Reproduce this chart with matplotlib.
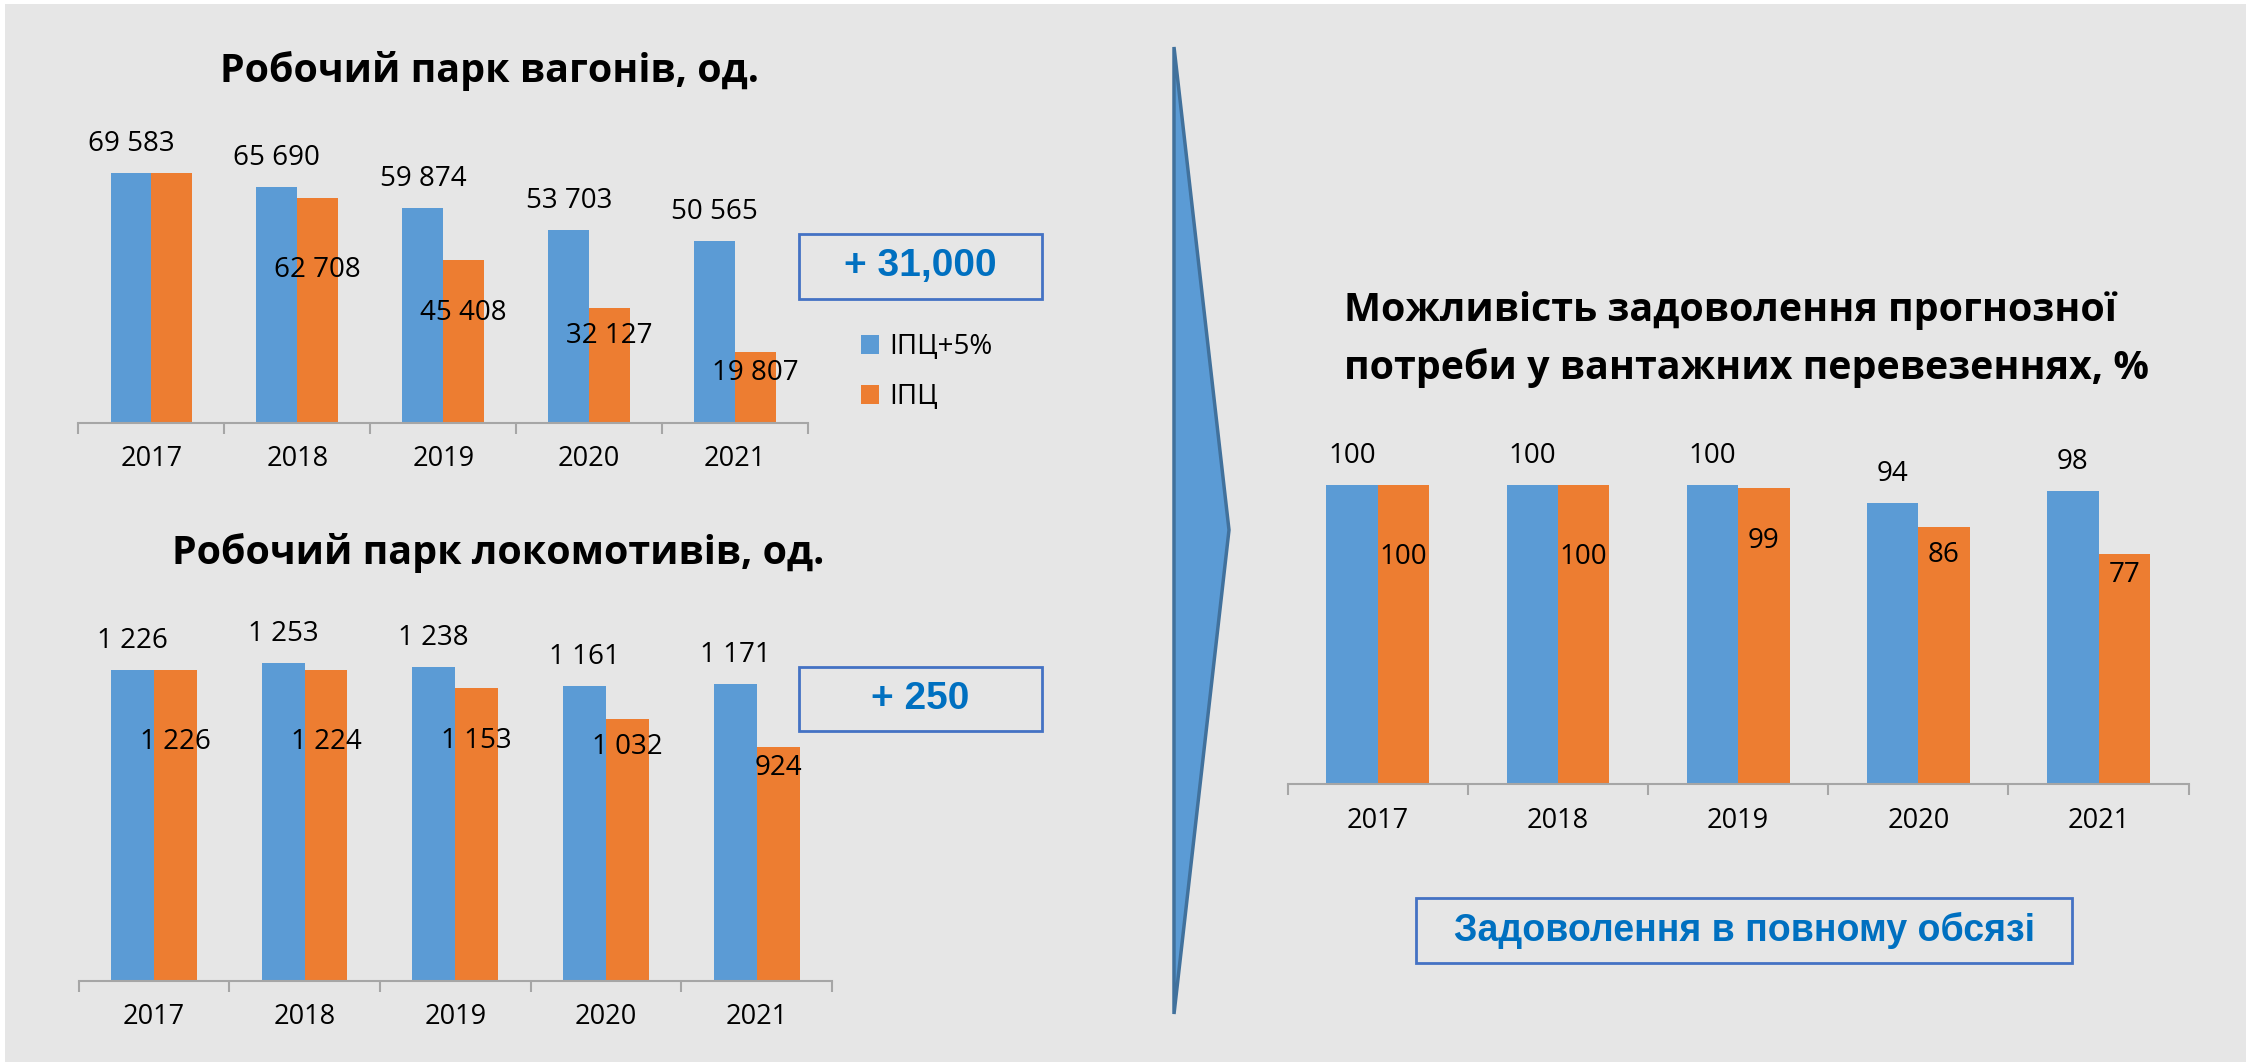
import matplotlib
matplotlib.use("Agg")
import matplotlib.pyplot as plt
from matplotlib.patches import Rectangle, Polygon

# ---------------- data ----------------
years = ["2017", "2018", "2019", "2020", "2021"]
series_names = ["ІПЦ+5%", "ІПЦ"]

wagons_cpi5 = [69583, 65690, 59874, 53703, 50565]
wagons_cpi = [69583, 62708, 45408, 32127, 19807]
wagons_show_cpi_label = [False, True, True, True, True]

locos_cpi5 = [1226, 1253, 1238, 1161, 1171]
locos_cpi = [1226, 1224, 1153, 1032, 924]

demand_cpi5 = [100, 100, 100, 94, 98]
demand_cpi = [100, 100, 99, 86, 77]

title_wagons = "Робочий парк вагонів, од."
title_locos = "Робочий парк локомотивів, од."
title_demand_1 = "Можливість задоволення прогнозної"
title_demand_2 = "потреби у вантажних перевезеннях, %"
box_wagons = "+ 31,000"
box_locos = "+ 250"
box_demand = "Задоволення в повному обсязі"

# ---------------- style ----------------
W, H = 2246, 1062
DPI = 100
BG = "#E6E6E6"
BLUE = "#5B9BD5"
ORANGE = "#ED7D31"
AXIS = "#A6A6A6"
BOXBLUE = "#4472C4"
TXTBLUE = "#0070C0"
FONT = ["Open Sans", "DejaVu Sans"]
BOXFONT = ["Liberation Sans", "DejaVu Sans"]
TITLE_FS = 28.4
# pixel drop of orange labels below bar top
ORANGE_LABEL_DROP = [72, 72, 53, 28, 21]

plt.rcParams["font.family"] = FONT

fig = plt.figure(figsize=(W / DPI, H / DPI), dpi=DPI, facecolor="white")

ov = fig.add_axes([0, 0, 1, 1], zorder=0)
ov.set_xlim(0, W)
ov.set_ylim(H, 0)
ov.axis("off")
ov.add_patch(Rectangle((5, 4), W, H, facecolor=BG, edgecolor="none"))


def px_ax(left, right, base, top):
    return fig.add_axes([left / W, 1 - base / H, (right - left) / W, (base - top) / H], zorder=2)


def bar_chart(left, right, base, top, ymax, s1, s2, barw, show2=None):
    ax = px_ax(left, right, base, top)
    ax.set_facecolor("none")
    x = list(range(len(years)))
    b1 = ax.bar([i - barw / 2 for i in x], s1, width=barw, color=BLUE, label=series_names[0])
    b2 = ax.bar([i + barw / 2 for i in x], s2, width=barw, color=ORANGE, label=series_names[1])
    ax.set_xlim(-0.5, len(years) - 0.5)
    ax.set_ylim(0, ymax)
    for s in ["top", "right", "left"]:
        ax.spines[s].set_visible(False)
    ax.spines["bottom"].set_color(AXIS)
    ax.spines["bottom"].set_linewidth(1.5)
    ax.set_yticks([])
    ax.set_xticks([i - 0.5 for i in range(len(years) + 1)])
    ax.set_xticklabels([])
    ax.tick_params(axis="x", which="major", length=8, width=1.5, color=AXIS)
    ax.set_xticks(x, minor=True)
    ax.set_xticklabels(years, minor=True, fontsize=19.5)
    ax.tick_params(axis="x", which="minor", length=0, pad=16)
    fmt = lambda v: f"{v:,}".replace(",", " ")
    for i, (r, v) in enumerate(zip(b1, s1)):
        ax.annotate(fmt(v), (r.get_x() + r.get_width() / 2, v), xytext=(0, 29 * 72 / DPI),
                    textcoords="offset points", ha="center", va="center", fontsize=20, annotation_clip=False)
    for i, (r, v) in enumerate(zip(b2, s2)):
        if show2 is not None and not show2[i]:
            continue
        ax.annotate(fmt(v), (r.get_x() + r.get_width() / 2, v),
                    xytext=(0, -ORANGE_LABEL_DROP[i] * 72 / DPI),
                    textcoords="offset points", ha="center", va="center", fontsize=20, annotation_clip=False)
    return ax, b1, b2


# top-left: wagons
ax1, b1, b2 = bar_chart(78.5, 808, 423, 423 - 80000 * 250 / 69583, 80000,
                        wagons_cpi5, wagons_cpi, 0.28, wagons_show_cpi_label)
ax1.legend(handles=[b1, b2], loc="upper left", bbox_to_anchor=(861 / W, 1 - 333 / H),
           bbox_transform=fig.transFigure, frameon=False, fontsize=20, handlelength=0.65,
           handleheight=0.65, handletextpad=0.35, labelspacing=0.8, borderpad=0, borderaxespad=0)

# bottom-left: locomotives
ax2, _, _ = bar_chart(78.5, 832, 981, 981 - 1400 * 0.2537, 1400, locos_cpi5, locos_cpi, 0.285)

# right: demand
ax3, _, _ = bar_chart(1287.7, 2188.6, 784.4, 784.4 - 120 * 2.996, 120, demand_cpi5, demand_cpi, 0.285)

# titles
ov.text(489, 71, title_wagons, ha="center", va="center", fontsize=TITLE_FS, fontweight="bold")
ov.text(498, 553, title_locos, ha="center", va="center", fontsize=TITLE_FS, fontweight="bold")
ov.text(1344, 310, title_demand_1, ha="left", va="center", fontsize=TITLE_FS, fontweight="bold")
ov.text(1344, 368, title_demand_2, ha="left", va="center", fontsize=TITLE_FS, fontweight="bold")

# boxes
def box(x0, y0, x1, y1, txt, fs):
    ov.add_patch(Rectangle((x0, y0), x1 - x0, y1 - y0, facecolor="none", edgecolor=BOXBLUE, lw=2))
    ov.text((x0 + x1) / 2, (y0 + y1) / 2, txt, ha="center", va="center", fontsize=fs,
            fontweight="bold", color=TXTBLUE, family=BOXFONT)

box(799, 234, 1042, 299, box_wagons, 28)
box(799, 667, 1042, 731, box_locos, 28)
box(1416, 898, 2072, 963, box_demand, 27)

# arrow
ov.add_patch(Polygon([(1174, 47), (1229, 530), (1174, 1014)], closed=True,
                     facecolor=BLUE, edgecolor="#41719C", lw=2.5, joinstyle="miter"))

fig.savefig("out.png", dpi=DPI, facecolor="white")
